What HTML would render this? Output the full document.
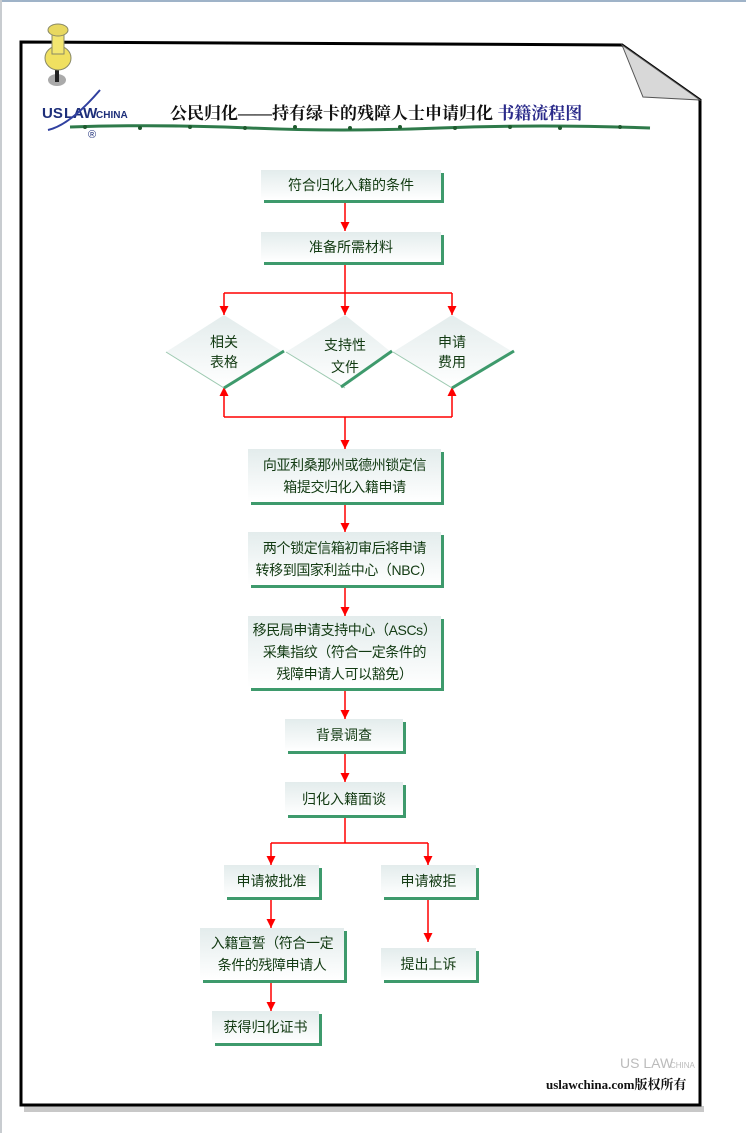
<!DOCTYPE html>
<html><head><meta charset="utf-8"><style>
body{margin:0;width:746px;height:1133px;background:#fff;position:relative;overflow:hidden;font-family:"Liberation Sans","Noto Sans CJK SC",sans-serif;}
.b{position:absolute;background:linear-gradient(#e3ecec,#fff);box-shadow:3px 3px 0 #3e9a6c;color:#123a12;font-size:14px;line-height:22px;text-align:center;display:flex;align-items:center;justify-content:center;white-space:nowrap;}
.s{font-size:14px;letter-spacing:-0.4px;}
.d{position:absolute;font-size:14px;line-height:20px;color:#123a12;text-align:center;}
svg{position:absolute;left:0;top:0;}
</style></head><body>
<svg width="746" height="1133">
<defs><linearGradient id="g" x1="0" y1="0" x2="0" y2="1"><stop offset="0" stop-color="#e3ecec"/><stop offset="1" stop-color="#fff"/></linearGradient>
<marker id="a" markerWidth="9" markerHeight="9" refX="9" refY="4.5" orient="auto" markerUnits="userSpaceOnUse"><path d="M0,0 L9,4.5 L0,9z" fill="red"/></marker></defs>
<rect x="0" y="0" width="746" height="2" fill="#9fb3c8"/>
<rect x="0" y="0" width="2" height="1133" fill="#c8ccd0"/>
<rect x="24" y="1106" width="680" height="6" fill="#c8c8c8"/>
<path d="M21,42 L622,45 L700,100 L700,1105 L21,1105 Z" fill="#fff" stroke="#000" stroke-width="3"/>
<path d="M622,45 L643,97 L700,100 Z" fill="#d8d8d8" stroke="#555" stroke-width="1"/>
<g stroke="#2e7a4a" stroke-width="3">
<path d="M70,127 Q160,124 250,128 T440,128 T650,128" fill="none"/>
</g>
<g fill="#1e5a2e"><circle cx="85" cy="127" r="2"/><circle cx="140" cy="128" r="2"/><circle cx="190" cy="127" r="2"/><circle cx="245" cy="128" r="2"/><circle cx="295" cy="127" r="2"/><circle cx="350" cy="128" r="2"/><circle cx="400" cy="127" r="2"/><circle cx="455" cy="128" r="2"/><circle cx="510" cy="127" r="2"/><circle cx="560" cy="128" r="2"/><circle cx="620" cy="127" r="2"/></g>
<ellipse cx="57" cy="80" rx="9" ry="6" fill="#aaa"/>
<rect x="55" y="68" width="4" height="14" fill="#222"/>
<ellipse cx="58" cy="58" rx="13" ry="12" fill="#f0e060" stroke="#886" stroke-width="1"/>
<rect x="52" y="32" width="12" height="22" fill="#f3e670" stroke="#886" stroke-width="1"/>
<ellipse cx="58" cy="30" rx="10" ry="6" fill="#e8d860" stroke="#886" stroke-width="1"/>
<text x="42" y="118" font-size="15" font-weight="bold" fill="#1e2f7a" font-family="Liberation Sans,sans-serif">US</text>
<text x="64" y="118" font-size="15" font-weight="bold" fill="#1e2f7a" font-family="Liberation Sans,sans-serif">LAW</text>
<text x="96" y="118" font-size="10" font-weight="bold" fill="#1e2f7a" font-family="Liberation Sans,sans-serif">CHINA</text>
<path d="M48,130 Q70,125 100,90" stroke="#3040a0" stroke-width="2" fill="none"/>
<text x="88" y="138" font-size="11" fill="#1e2f7a">®</text>
<text x="620" y="1068" font-size="14" fill="#bbb" font-family="Liberation Sans,sans-serif">US LAW</text>
<text x="670" y="1068" font-size="8" fill="#bbb" font-family="Liberation Sans,sans-serif">CHINA</text>
<g stroke="red" stroke-width="1.5" fill="none">
<line x1="345" y1="200" x2="345" y2="231" marker-end="url(#a)"/>
<line x1="345" y1="262" x2="345" y2="293"/>
<line x1="224" y1="293" x2="452" y2="293"/>
<line x1="224" y1="293" x2="224" y2="315" marker-end="url(#a)"/>
<line x1="345" y1="293" x2="345" y2="315" marker-end="url(#a)"/>
<line x1="452" y1="293" x2="452" y2="315" marker-end="url(#a)"/>
<line x1="224" y1="417" x2="224" y2="387" marker-end="url(#a)"/>
<line x1="452" y1="417" x2="452" y2="387" marker-end="url(#a)"/>
<line x1="224" y1="417" x2="452" y2="417"/>
<line x1="345" y1="417" x2="345" y2="449" marker-end="url(#a)"/>
<line x1="345" y1="502" x2="345" y2="532" marker-end="url(#a)"/>
<line x1="345" y1="585" x2="345" y2="616" marker-end="url(#a)"/>
<line x1="345" y1="688" x2="345" y2="719" marker-end="url(#a)"/>
<line x1="345" y1="751" x2="345" y2="782" marker-end="url(#a)"/>
<line x1="345" y1="815" x2="345" y2="843"/>
<line x1="271" y1="843" x2="428" y2="843"/>
<line x1="271" y1="843" x2="271" y2="865" marker-end="url(#a)"/>
<line x1="428" y1="843" x2="428" y2="865" marker-end="url(#a)"/>
<line x1="271" y1="899" x2="271" y2="928" marker-end="url(#a)"/>
<line x1="428" y1="900" x2="428" y2="942" marker-end="url(#a)"/>
<line x1="271" y1="982" x2="271" y2="1011" marker-end="url(#a)"/>
</g>
<g>
<path d="M224,315 L283,352 L224,388 L166,352Z" fill="url(#g)"/>
<path d="M166,352 L224,388" stroke="#9cc9b0" stroke-width="1"/>
<path d="M224,388 L284,351" stroke="#3e9a6c" stroke-width="3"/>
<path d="M345,315 L391,352 L345,388 L286,352Z" fill="url(#g)"/>
<path d="M286,352 L345,388" stroke="#9cc9b0" stroke-width="1"/>
<path d="M341,387 L392,351" stroke="#3e9a6c" stroke-width="3"/>
<path d="M452,315 L513,352 L452,388 L393,352Z" fill="url(#g)"/>
<path d="M393,352 L452,388" stroke="#9cc9b0" stroke-width="1"/>
<path d="M452,388 L514,351" stroke="#3e9a6c" stroke-width="3"/>
</g>
</svg>
<div style="position:absolute;left:170px;top:99px;font-family:'Liberation Serif','Noto Serif CJK SC',serif;font-size:17px;font-weight:bold;color:#111;">公民归化——持有绿卡的残障人士申请归化 <span style="color:#2a2a8a">书籍流程图</span></div>
<div style="position:absolute;left:546px;top:1074px;font-family:'Liberation Serif','Noto Serif CJK SC',serif;font-size:13px;font-weight:bold;color:#111;">uslawchina.com版权所有</div>

<div class="b" style="left:261px;top:170px;width:180px;height:30px;">符合归化入籍的条件</div>
<div class="b" style="left:261px;top:232px;width:180px;height:30px;">准备所需材料</div>
<div class="d" style="left:194px;top:332px;width:60px;">相关<br>表格</div>
<div class="d" style="left:305px;top:334px;width:80px;line-height:22px;">支持性<br>文件</div>
<div class="d" style="left:422px;top:332px;width:60px;">申请<br>费用</div>
<div class="b s" style="left:248px;top:449px;width:193px;height:53px;">向亚利桑那州或德州锁定信<br>箱提交归化入籍申请</div>
<div class="b s" style="left:248px;top:532px;width:193px;height:53px;">两个锁定信箱初审后将申请<br>转移到国家利益中心（NBC）</div>
<div class="b s" style="left:248px;top:616px;width:193px;height:72px;">移民局申请支持中心（ASCs）<br>采集指纹（符合一定条件的<br>残障申请人可以豁免）</div>
<div class="b" style="left:285px;top:719px;width:118px;height:32px;">背景调查</div>
<div class="b" style="left:285px;top:782px;width:118px;height:33px;">归化入籍面谈</div>
<div class="b" style="left:224px;top:865px;width:95px;height:32px;">申请被批准</div>
<div class="b" style="left:381px;top:865px;width:95px;height:32px;">申请被拒</div>
<div class="b s" style="left:200px;top:928px;width:144px;height:52px;">入籍宣誓（符合一定<br>条件的残障申请人</div>
<div class="b" style="left:381px;top:948px;width:95px;height:32px;">提出上诉</div>
<div class="b" style="left:212px;top:1011px;width:107px;height:32px;">获得归化证书</div>
</body></html>
